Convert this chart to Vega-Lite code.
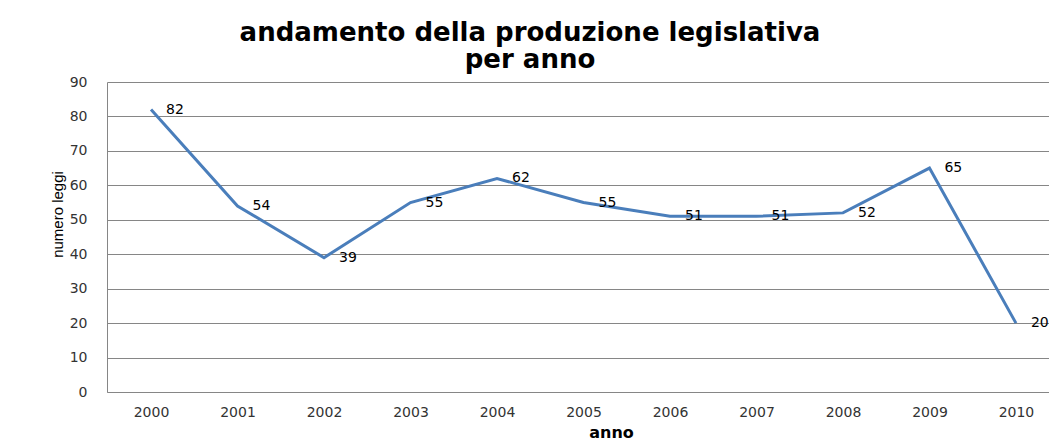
{
  "$schema": "https://vega.github.io/schema/vega-lite/v6.json",
  "autosize": {"type": "none"},
  "padding": {"left": 107, "top": 82, "right": 0, "bottom": 49},
  "width": 942,
  "height": 310,
  "background": "white",
  "title": {
    "text": ["andamento della produzione legislativa", "per anno"],
    "font": "DejaVu Sans",
    "fontSize": 26,
    "fontWeight": "bold",
    "color": "#000000",
    "anchor": "middle",
    "dx": -48,
    "lineHeight": 27,
    "offset": 2
  },
  "data": {
    "values": [
      {"anno": 2000, "leggi": 82},
      {"anno": 2001, "leggi": 54},
      {"anno": 2002, "leggi": 39},
      {"anno": 2003, "leggi": 55},
      {"anno": 2004, "leggi": 62},
      {"anno": 2005, "leggi": 55},
      {"anno": 2006, "leggi": 51},
      {"anno": 2007, "leggi": 51},
      {"anno": 2008, "leggi": 52},
      {"anno": 2009, "leggi": 65},
      {"anno": 2010, "leggi": 20}
    ]
  },
  "encoding": {
    "x": {
      "field": "anno",
      "type": "quantitative",
      "scale": {"domain": [1999.491, 2010.382], "nice": false, "zero": false},
      "axis": {
        "title": "anno",
        "values": [2000, 2001, 2002, 2003, 2004, 2005, 2006, 2007, 2008, 2009, 2010],
        "format": "d",
        "grid": false,
        "ticks": false,
        "domainColor": "#868686",
        "labelFont": "DejaVu Sans",
        "labelFontSize": 14,
        "labelColor": "#333333",
        "labelPadding": 13,
        "labelFlush": false,
        "titleFont": "DejaVu Sans",
        "titleFontSize": 16,
        "titleFontWeight": "bold",
        "titleColor": "#000000",
        "titleX": 504,
        "titleY": 32,
        "titleBaseline": "top"
      }
    },
    "y": {
      "field": "leggi",
      "type": "quantitative",
      "scale": {"domain": [0, 90], "nice": false},
      "axis": {
        "title": "numero leggi",
        "values": [0, 10, 20, 30, 40, 50, 60, 70, 80, 90],
        "grid": true,
        "gridColor": "#868686",
        "gridWidth": 1,
        "ticks": false,
        "domainColor": "#868686",
        "labelFont": "DejaVu Sans",
        "labelFontSize": 14,
        "labelColor": "#333333",
        "labelPadding": 20,
        "titleFont": "Liberation Sans Narrow, Liberation Sans",
        "titleFontSize": 15,
        "titleFontWeight": "normal",
        "titleColor": "#000000",
        "titleX": -50,
        "titleY": 132,
        "titleAngle": -90,
        "titleBaseline": "middle",
        "titleAlign": "center"
      }
    }
  },
  "layer": [
    {
      "mark": {"type": "line", "color": "#4a7ebb", "strokeWidth": 3}
    },
    {
      "mark": {
        "type": "text",
        "align": "left",
        "baseline": "middle",
        "dx": 15,
        "font": "DejaVu Sans",
        "fontSize": 14,
        "color": "#000000"
      },
      "encoding": {"text": {"field": "leggi", "type": "quantitative"}}
    }
  ],
  "config": {"view": {"stroke": null}}
}
